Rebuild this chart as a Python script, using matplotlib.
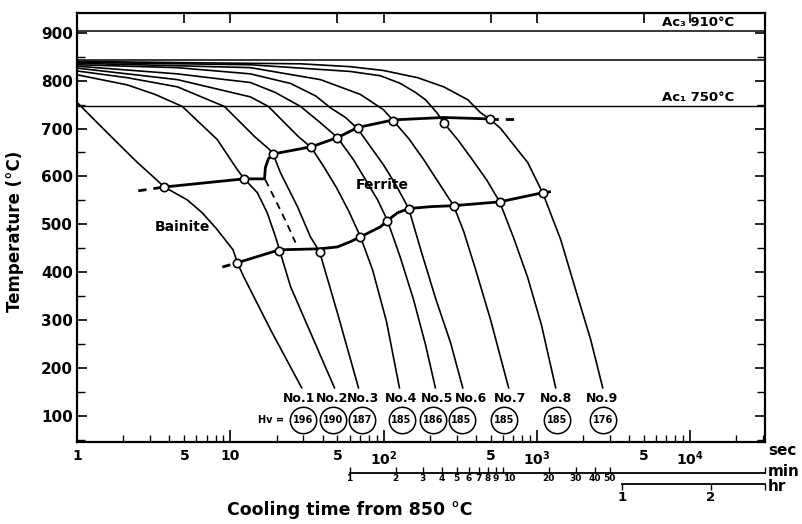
import numpy as np
import matplotlib.pyplot as plt

plt.rcParams['font.family'] = 'DejaVu Sans'
plt.rcParams['font.weight'] = 'bold'
plt.rcParams['mathtext.default'] = 'bf'

# cooling curves No.1 .. No.9 : time [s], temperature [C]
t1 = [1, 1.35, 1.83, 2.47, 3.19, 3.7, 5.23, 6.55, 8.1, 10.4, 11.1, 12.2, 18.3, 29.2]
T1 = [754, 712, 670, 629, 597, 578, 551, 524, 491, 447, 420, 391, 280, 159]
t2 = [1, 2.12, 3.23, 4.85, 8.2, 11.1, 12.3, 15.0, 17.4, 19.7, 20.9, 24.7, 47.8]
T2 = [812, 791, 771, 746, 677, 614, 595, 566, 524, 474, 447, 370, 159]
t3 = [1, 2.12, 4.5, 9.13, 14.4, 18.0, 19.1, 21.2, 27.4, 33.3, 38.2, 50, 68.6]
T3 = [820, 806, 787, 746, 683, 656, 645, 608, 537, 474, 443, 315, 159]
t4 = [1, 4.5, 13.5, 17.7, 22.9, 27.8, 33.8, 40.4, 49.4, 59.2, 70.7, 84.8, 104.6, 127]
T4 = [826, 802, 766, 746, 710, 683, 660, 622, 576, 528, 474, 405, 297, 159]
t5 = [1, 4.5, 9.27, 13.5, 19.7, 28.7, 38.7, 50, 63.6, 91.5, 106, 129, 157, 188, 218]
T5 = [830, 814, 802, 796, 775, 746, 712, 681, 635, 551, 508, 430, 343, 249, 159]
t6 = [1, 4.5, 13.5, 24.7, 36.0, 45.1, 56.4, 67.6, 82.2, 100, 121, 146, 175, 218, 274, 329]
T6 = [833, 827, 814, 794, 768, 743, 723, 700, 662, 624, 581, 533, 447, 347, 253, 159]
t7 = [1, 4.5, 13.5, 38.7, 70.7, 100, 116, 146, 183, 229, 287, 334, 400, 500, 656]
T7 = [836, 831, 827, 802, 771, 739, 716, 679, 635, 587, 539, 485, 405, 301, 159]
t8 = [1, 13.5, 60.8, 95.5, 129, 162, 188, 223, 247, 308, 380, 471, 573, 707, 874, 1075, 1331]
T8 = [838, 833, 819, 810, 794, 775, 760, 733, 712, 675, 635, 593, 547, 472, 389, 290, 159]
t9 = [1, 6.37, 28.7, 60.8, 100, 167, 247, 355, 430, 493, 582, 707, 874, 1094, 1436, 1799, 2255, 2700]
T9 = [840, 837, 835, 829, 821, 806, 787, 760, 733, 720, 700, 666, 629, 566, 468, 363, 259, 159]
curves_t = [t1, t2, t3, t4, t5, t6, t7, t8, t9]
curves_T = [T1, T2, T3, T4, T5, T6, T7, T8, T9]

# start of transformation (upper) and bainite start (lower)
up_pts_t = [3.7, 12.3, 19.1, 33.8, 50, 67.6, 116, 247, 493]
up_pts_T = [578, 595, 647, 662, 681, 702, 716, 712, 720]
up_line_t = [3.7, 12.3, 16.7, 16.9, 17.7, 19.1, 33.8, 50, 67.6, 116, 247, 493]
up_line_T = [578, 595, 595, 618, 637, 647, 662, 681, 702, 718, 723, 720]
up_dash_l_t, up_dash_l_T = [2.5, 3.7], [570, 578]
up_dash_r_t, up_dash_r_T = [493, 753], [720, 720]

lo_pts_t = [11.1, 20.9, 38.2, 70.7, 106, 146, 287, 573, 1094]
lo_pts_T = [420, 445, 443, 474, 508, 533, 539, 547, 566]
lo_line_t = [11.1, 20.9, 38.2, 50, 60.8, 70.7, 95.5, 106, 123, 146, 203, 287, 573, 1094]
lo_line_T = [420, 447, 449, 453, 464, 474, 495, 508, 524, 533, 537, 539, 547, 566]
lo_dash_l_t, lo_dash_l_T = [8.85, 11.1], [411, 420]
lo_dash_r_t, lo_dash_r_T = [1094, 1350], [566, 570]

bain_dash_t = [16.9, 21.2, 23.9, 26.6]
bain_dash_T = [593, 530, 495, 462]

# horizontal lines
ac3, t_start, ac1 = 904, 843, 747

# labels under the curves
no_labels = ['No.1', 'No.2', 'No.3', 'No.4', 'No.5', 'No.6', 'No.7', 'No.8', 'No.9']
no_t = [27.9, 46.4, 73.6, 131, 222, 370, 675, 1331, 2655]
hv_values = ['196', '190', '187', '185', '186', '185', '185', '185', '176']
hv_t = [29.6, 47.0, 72.6, 131, 211, 323, 616, 1350, 2700]

fig = plt.figure(figsize=(8.02, 5.24), dpi=100)
ax = fig.add_axes([0.0964, 0.1565, 0.8575, 0.8187])
ax.set_xscale('log')
ax.set_xlim(1, 31000)
ax.set_ylim(46, 941)

ax.axhline(ac3, color='k', lw=1.1)
ax.axhline(t_start, color='k', lw=1.1)
ax.axhline(ac1, color='k', lw=1.0)

for tt, TT in zip(curves_t, curves_T):
    ax.plot(tt, TT, color='k', lw=1.2)

ax.plot(up_line_t, up_line_T, color='k', lw=2.0)
ax.plot(lo_line_t, lo_line_T, color='k', lw=2.0)
for tt, TT in [(up_dash_l_t, up_dash_l_T), (up_dash_r_t, up_dash_r_T),
               (lo_dash_l_t, lo_dash_l_T), (lo_dash_r_t, lo_dash_r_T)]:
    ax.plot(tt, TT, color='k', lw=2.0, ls=(0, (3, 2.5)))
ax.plot(bain_dash_t, bain_dash_T, color='k', lw=1.3, ls=(0, (4, 3)))

ax.plot(up_pts_t, up_pts_T, 'o', ms=6, mfc='white', mec='k', mew=1.2, zorder=5)
ax.plot(lo_pts_t, lo_pts_T, 'o', ms=6, mfc='white', mec='k', mew=1.2, zorder=5)

ax.text(97.5, 583, 'Ferrite', fontsize=10, ha='center', va='center')
ax.text(4.85, 495, 'Bainite', fontsize=10, ha='center', va='center')
ax.text(6600, 908, 'Ac\u2083 910°C', fontsize=9.5, ha='left', va='bottom')
ax.text(6600, 752, 'Ac\u2081 750°C', fontsize=9.5, ha='left', va='bottom')

for lab, x in zip(no_labels, no_t):
    ax.text(x, 136, lab, fontsize=9, ha='center', va='center')
ax.plot(hv_t, [92] * len(hv_t), 'o', ms=19, mfc='white', mec='k', mew=1.1)
for v, x in zip(hv_values, hv_t):
    ax.text(x, 92, v, fontsize=7, ha='center', va='center')
ax.text(22.5, 92, 'Hv =', fontsize=7, ha='right', va='center')

# axes styling
for s in ax.spines.values():
    s.set_linewidth(1.6)
ax.set_yticks(range(100, 901, 100))
ax.set_yticks(range(50, 941, 50), minor=True)
dec = [1, 10, 100, 1000, 10000]
ax.set_xticks(dec, labels=['1', '10', '$10^2$', '$10^3$', '$10^4$'])
minor = []
minor_lab = []
for d in [1, 10, 100, 1000, 10000]:
    for k in range(2, 10):
        if d * k < 31000:
            minor.append(d * k)
            minor_lab.append('5' if k == 5 else '')
ax.set_xticks(minor, labels=minor_lab, minor=True)
ax.tick_params(axis='x', which='both', direction='in', top=False, labelsize=10, pad=5)
ax.tick_params(axis='x', which='major', length=9, width=1.2)
ax.tick_params(axis='x', which='minor', length=5, width=1.0)
ax.tick_params(axis='y', which='both', direction='in', right=True, labelsize=11, pad=3)
ax.tick_params(axis='y', which='major', length=7, width=1.2)
ax.tick_params(axis='y', which='minor', length=6, width=1.0)

top = ax.secondary_xaxis('top')
top.set_xticks([5, 10, 50, 100, 500, 1000, 5000, 10000], labels=[''] * 8)
top.set_xticks([], minor=True)
top.tick_params(direction='in', length=7, width=1.2)
top.spines['top'].set_visible(False)

# minutes scale
min_vals = [1, 2, 3, 4, 5, 6, 7, 8, 9, 10, 20, 30, 40, 50]
secmin = ax.secondary_xaxis(-0.072)
secmin.set_xticks([m * 60 for m in min_vals] + [31000],
                  labels=[str(m) for m in min_vals] + [''])
secmin.set_xticks([], minor=True)
secmin.tick_params(direction='in', length=4, width=1.0, labelsize=6.5, pad=1)
secmin.spines['bottom'].set_bounds(60, 31000)
secmin.spines['bottom'].set_linewidth(1.3)
labs = secmin.get_xticklabels()
labs[9].set_ha('left')

# hours scale (positions as drawn in the chart)
hr_pos = [3600, 13700, 31000]
hr_lab = ['1', '2', '']
sechr = ax.secondary_xaxis(-0.098)
sechr.set_xticks(hr_pos, labels=hr_lab)
sechr.set_xticks([], minor=True)
sechr.tick_params(direction='out', length=4, width=1.0, labelsize=9.5, pad=1)
sechr.spines['bottom'].set_bounds(3600, 31000)
sechr.spines['bottom'].set_linewidth(1.3)

ax.text(1.004, -0.019, 'sec', transform=ax.transAxes, fontsize=11, va='center', ha='left')
ax.text(1.004, -0.068, 'min', transform=ax.transAxes, fontsize=11, va='center', ha='left')
ax.text(1.004, -0.104, 'hr', transform=ax.transAxes, fontsize=11, va='center', ha='left')

fig.text(350 / 802, 1 - 510 / 524, 'Cooling time from 850 °C', fontsize=12.5,
         ha='center', va='center')
fig.text(15 / 802, 1 - 231 / 524, 'Temperature (°C)', fontsize=12,
         rotation=90, ha='center', va='center')

fig.savefig('out.png', dpi=100)
